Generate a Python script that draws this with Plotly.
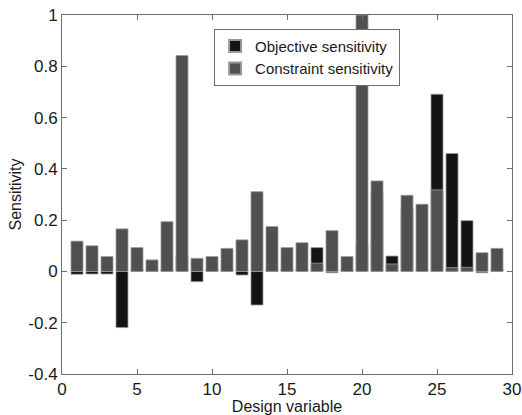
import plotly.graph_objects as go

design_variable = list(range(1, 30))
objective = [-0.011, -0.01, -0.01, -0.219, 0.01, 0.01, 0.008, 0.06, -0.04, 0.01,
             0.01, -0.014, -0.131, 0.01, 0.01, 0.01, 0.093, -0.005, 0.01, 0.1,
             0.305, 0.06, 0.243, 0.01, 0.691, 0.46, 0.198, -0.005, 0.01]
constraint = [0.118, 0.1, 0.058, 0.166, 0.093, 0.045, 0.194, 0.842, 0.051, 0.058,
              0.09, 0.123, 0.311, 0.175, 0.093, 0.112, 0.032, 0.159, 0.058, 1.0,
              0.353, 0.029, 0.297, 0.262, 0.318, 0.015, 0.016, 0.073, 0.09]
x_ticks = [0, 5, 10, 15, 20, 25, 30]
y_ticks = [-0.4, -0.2, 0, 0.2, 0.4, 0.6, 0.8, 1]
y_tick_labels = ["-0.4", "-0.2", "0", "0.2", "0.4", "0.6", "0.8", "1"]

FONT = "Liberation Sans, Arial, sans-serif"

fig = go.Figure()
fig.add_trace(go.Bar(x=design_variable, y=objective, name="Objective sensitivity",
                     width=0.8, marker=dict(color="#141414", line=dict(color="#9a9a9a", width=0.8))))
fig.add_trace(go.Bar(x=design_variable, y=constraint, name="Constraint sensitivity",
                     width=0.8, marker=dict(color="#505050", line=dict(color="#9a9a9a", width=0.8))))

axis_common = dict(showline=True, linecolor="#6e6e6e", linewidth=1, mirror="ticks",
                   ticks="inside", ticklen=5, tickcolor="#6e6e6e", showgrid=False,
                   zeroline=False, automargin=False,
                   tickfont=dict(family=FONT, size=17, color="#1a1a1a"))

fig.update_layout(
    width=522, height=415,
    margin=dict(l=62, r=10, t=15, b=41),
    barmode="overlay",
    plot_bgcolor="white", paper_bgcolor="white",
    font=dict(family=FONT, color="#1a1a1a"),
    xaxis=dict(range=[0, 30], tickvals=x_ticks, ticktext=[str(v) for v in x_ticks],
               title=dict(text="Design variable", font=dict(family=FONT, size=16), standoff=0),
               **axis_common),
    yaxis=dict(range=[-0.4, 1], tickvals=y_ticks, ticktext=y_tick_labels,
               title=dict(text="Sensitivity", font=dict(family=FONT, size=16), standoff=2),
               **axis_common),
    legend=dict(x=0.338, y=0.962, xanchor="left", yanchor="top",
                bgcolor="white", bordercolor="#6e6e6e", borderwidth=1,
                font=dict(family=FONT, size=15, color="#1a1a1a"),
                tracegroupgap=0, itemsizing="constant", itemwidth=30),
    showlegend=True,
)

fig.write_html("out.html")
